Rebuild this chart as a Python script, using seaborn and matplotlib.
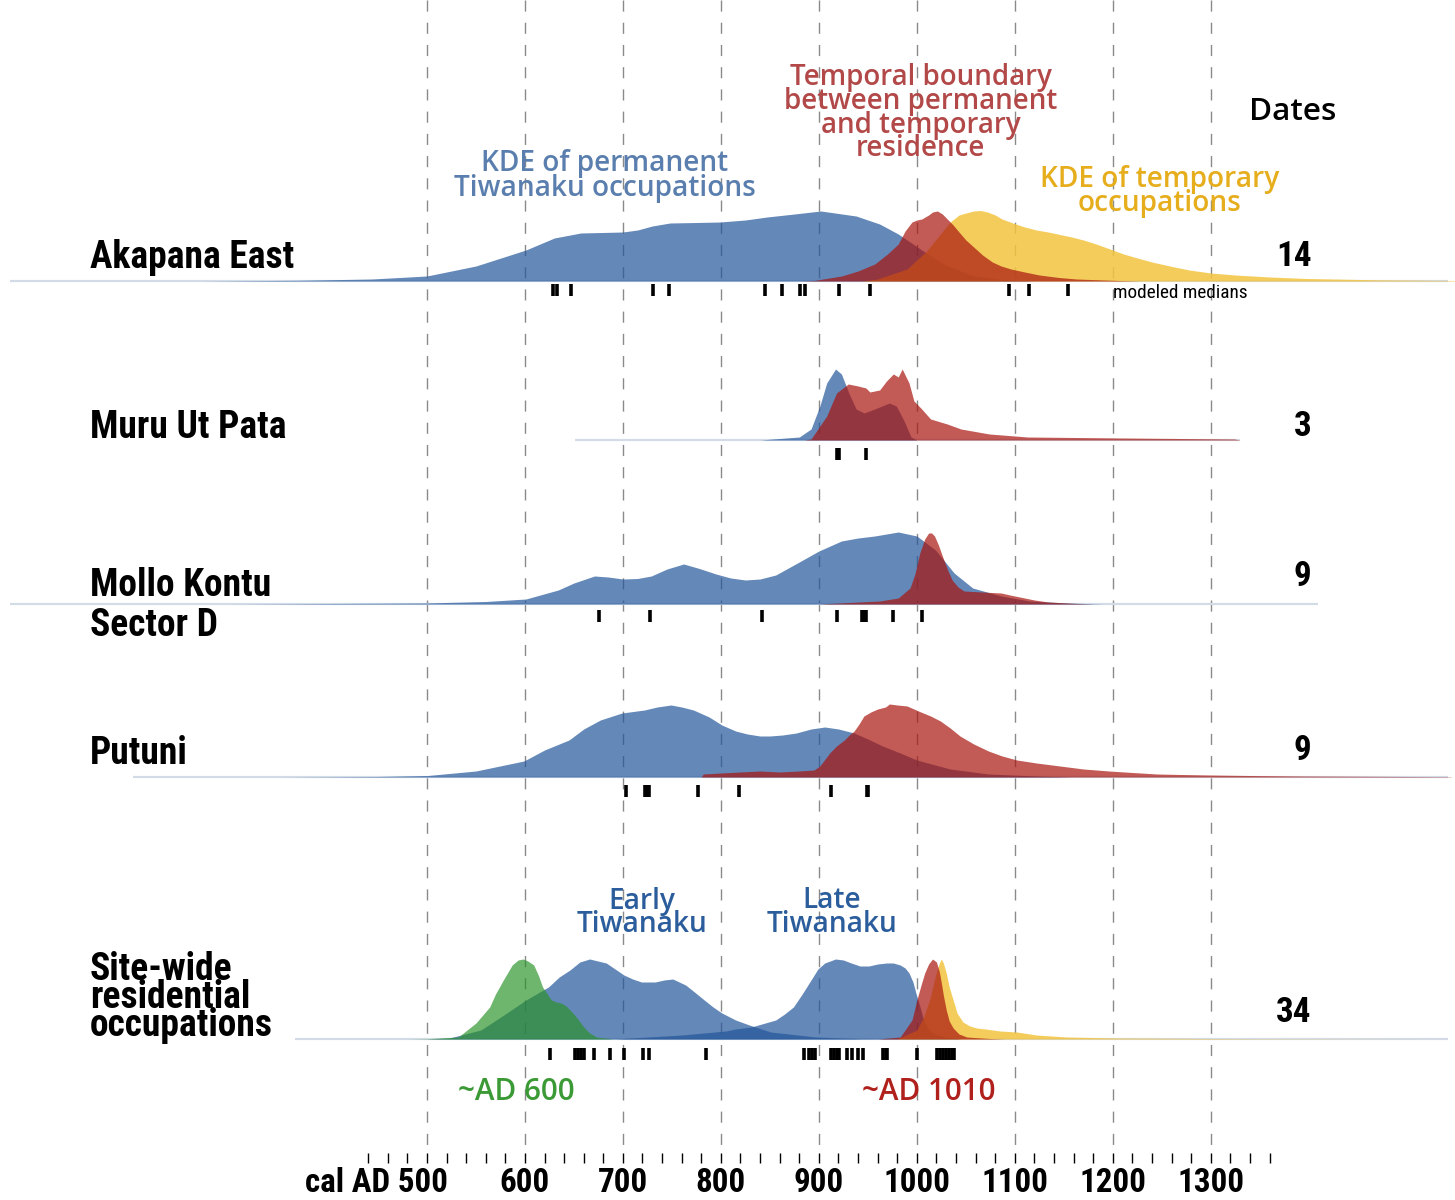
import numpy as np
import pandas as pd
import matplotlib
matplotlib.use("Agg")
import matplotlib.pyplot as plt
from matplotlib import font_manager
from matplotlib.font_manager import FontProperties
import seaborn as sns

# ---- density readings (year, height in px above the row baseline) ----
ak_blue_yr = [270, 368, 444, 500, 550, 601, 630, 657, 700, 715, 730, 748, 775, 799, 825, 847, 875, 902, 938, 962, 981, 1005, 1029, 1058, 1087, 1120]
ak_blue_h = [0, 0.7, 2, 5, 15, 31, 43, 48, 49, 51, 55, 58, 58.5, 59, 61, 64, 67, 70, 65, 57, 47, 31, 16, 5, 1.5, 0]
ak_red_yr = [880, 895, 923, 940, 957, 970, 981, 988, 995, 1000, 1005, 1012, 1016, 1021, 1026, 1031, 1037, 1043, 1050, 1058, 1067, 1077, 1086, 1096, 1110, 1125, 1145, 1163, 1206, 1230]
ak_red_h = [0, 0.5, 5, 10, 17, 27, 37, 50, 59, 61, 62, 66, 69, 70, 67, 62, 56, 49, 41, 34, 26, 19, 15, 12, 9, 6, 3.5, 2, 0.5, 0]
ak_yel_yr = [945, 960, 990, 1010, 1034, 1043, 1050, 1058, 1065, 1072, 1080, 1087, 1098, 1110, 1122, 1134, 1146, 1158, 1170, 1183, 1197, 1211, 1225, 1240, 1258, 1278, 1300, 1325, 1360, 1398, 1469, 1550]
ak_yel_h = [0, 2, 12, 30, 59, 66, 68, 70, 70.5, 69, 66, 62, 58, 54, 51, 49, 46.5, 44, 41, 37, 32, 27, 23, 19, 15, 11, 8, 6, 4, 2.5, 1.2, 0.5]

mu_blue_yr = [840, 880, 892, 901, 908, 917, 923, 931, 938, 946, 957, 972, 979, 987, 994, 1000]
mu_blue_h = [0, 3, 11, 34, 57, 71, 66, 46, 31, 27, 31, 37, 34, 19, 3, 0]
mu_red_yr = [885, 892, 908, 918, 930, 940, 948, 952, 962, 969, 976, 981, 985, 992, 997, 1004, 1014, 1031, 1045, 1074, 1113, 1211, 1324, 1330]
mu_red_h = [0, 1, 24, 47, 56, 54, 52, 48, 50, 59, 66, 63, 71, 57, 39, 32, 21, 16, 11, 6, 3, 2, 1, 0]

mo_blue_yr = [300, 400, 499, 560, 601, 634, 650, 671, 685, 700, 715, 729, 745, 762, 778, 795, 810, 825, 840, 856, 880, 900, 923, 940, 957, 981, 1000, 1019, 1038, 1057, 1086, 1115, 1153, 1190]
mo_blue_h = [0, 0.5, 1, 2.5, 5, 14, 21, 28, 27, 25, 25.5, 28, 35, 40, 35.5, 30, 26, 24, 25, 29, 42, 53, 63, 66, 68, 72, 68, 54, 31, 16, 8, 3, 1, 0]
mo_red_yr = [900, 962, 981, 993, 998, 1003, 1008, 1012, 1015, 1018, 1022, 1026, 1031, 1036, 1042, 1048, 1057, 1067, 1076, 1086, 1095, 1105, 1120, 1134, 1163, 1180]
mo_red_h = [0, 3, 6, 16, 30, 51, 65, 71, 71, 68, 59, 48, 35, 24, 17, 13, 12.5, 12, 11.5, 11, 9, 7, 4, 2, 0.5, 0]

pu_blue_yr = [350, 450, 501, 550, 599, 620, 645, 660, 677, 699, 722, 735, 749, 760, 772, 788, 801, 815, 827, 840, 850, 863, 877, 892, 906, 920, 936, 950, 965, 983, 1000, 1034, 1073, 1122, 1160]
pu_blue_h = [0, 0.5, 1.5, 6, 16, 27, 37, 48, 57, 64, 67, 70, 72, 70, 67, 60, 52, 46, 43, 41, 41, 42, 44, 48, 50, 48, 44, 38, 31, 24, 17, 8, 3, 1, 0]
pu_red_yr = [780, 782, 800, 820, 840, 860, 880, 895, 901, 911, 918, 926, 931, 936, 941, 946, 953, 960, 968, 972, 980, 990, 997, 1004, 1014, 1024, 1034, 1044, 1058, 1073, 1087, 1102, 1122, 1146, 1170, 1196, 1220, 1245, 1270, 1299, 1340, 1393, 1545]
pu_red_h = [0, 3, 4, 5, 6, 5, 6, 7, 11, 24, 31, 37, 42, 46, 53, 61, 65, 68, 70, 73, 72, 71, 68, 65, 61, 56, 49, 41, 33, 26, 21, 17, 14, 11, 8, 6, 4.5, 3, 2.5, 2, 1.5, 1, 0.3]

sw_green_yr = [480, 500, 532, 550, 564, 570, 578, 587, 593, 598, 603, 609, 614, 618, 627, 632, 637, 642, 648, 654, 660, 666, 673, 690]
sw_green_h = [0, 0.3, 2, 16, 32, 45, 59, 74, 79, 80, 78, 74, 63, 52, 39, 37, 36, 33, 27, 20, 12, 6, 2, 0]
sw_early_yr = [500, 523, 555, 580, 601, 624, 635, 646, 656, 666, 683, 701, 710, 719, 733, 742, 751, 764, 773, 783, 792, 801, 815, 829, 851, 897, 942, 980]
sw_early_h = [0, 1, 9, 25, 39, 52, 62, 69, 77, 80, 76, 64, 60, 57, 57, 59, 60, 54, 47, 39, 32, 26, 19, 14, 7, 2, 0.3, 0]
sw_late_yr = [692, 760, 805, 815, 831, 856, 865, 874, 883, 892, 899, 906, 917, 925, 933, 942, 951, 960, 969, 976, 983, 988, 992, 996, 999, 1003, 1006, 1010, 1015, 1022, 1029, 1045]
sw_late_h = [0, 4, 8, 10, 12, 19, 25, 32, 45, 59, 70, 76, 80, 79, 76, 73, 73, 75, 76, 76, 74, 71, 66, 57, 46, 33, 22, 13, 7, 4, 2, 0]
sw_red_yr = [960, 983, 995, 1000, 1004, 1008, 1012, 1016, 1020, 1023, 1025, 1027, 1030, 1033, 1037, 1043, 1051, 1074, 1090]
sw_red_h = [0, 2, 19, 39, 53, 66, 75, 80, 77, 67, 56, 44, 29, 18, 11, 5, 2, 0.5, 0]
sw_yel_yr = [980, 1000, 1007, 1013, 1017, 1020, 1023, 1025, 1027, 1030, 1033, 1037, 1041, 1047, 1054, 1061, 1070, 1085, 1102, 1122, 1153, 1204, 1340, 1545]
sw_yel_h = [0, 9, 22, 39, 55, 67, 76, 80, 76, 66, 52, 39, 26, 17, 13, 11, 10, 8, 7, 4, 2, 1, 0.3, 0]

# modeled medians (cal AD)
ak_dates = [629, 633, 647, 731, 747, 845, 862, 881, 886, 921, 952, 1094, 1114, 1154]
mu_dates = [919, 921, 948]
mo_dates = [676, 728, 842, 919, 944, 946, 948, 976, 1005]
pu_dates = [703, 723, 725, 727, 777, 818, 912, 949, 950]
sw_dates = [626, 651, 654, 657, 660, 670, 687, 701, 721, 727, 785, 885, 890, 893, 896,
            912, 915, 918, 921, 929, 934, 940, 945, 965, 968, 970, 1000, 1021, 1024,
            1027, 1030, 1033, 1036, 1038]

row_names = ["Akapana East", "Muru Ut Pata", "Mollo Kontu\nSector D", "Putuni",
             "Site-wide\nresidential\noccupations"]
row_counts = ["14", "3", "9", "9", "34"]
grid_years = [500, 600, 700, 800, 900, 1000, 1100, 1200, 1300]
tick_labels = ["cal AD 500", "600", "700", "800", "900", "1000", "1100", "1200", "1300"]

# ---- layout (pixel rows) ----
baselines = [281, 440, 604, 777, 1039]
rug_y = [290, 454, 616, 791, 1054]
tail_span = [(74, 1542), (651, 1330), (74, 1409), (200, 1542), (365, 1542)]
label_y = [257, 427, 605.5, 754, 997]
label_w = [210, 203, 191, 102, 190]
label_dy = [0, 0, 39, 0, 28]
count_y = [257, 427, 577, 750, 1012]

BLUE, BLUE_A = "#23569a", 0.7
RED, RED_A = "#a8140e", 0.7
YEL, YEL_A = "#f3c43e", 0.85
GRN, GRN_A = "#2a9228", 0.68

sns.set_theme(style="white")

# pick a condensed face if one is installed
cond_name, cond_stretch = "DejaVu Sans", "normal"
found = {}
for f in font_manager.fontManager.ttflist:
    st = str(f.stretch)
    if st in ("condensed", "semi-condensed", "extra-condensed") or "Narrow" in f.name or "Condensed" in f.name:
        found.setdefault(f.name, st)
for p in ["Liberation Sans Narrow", "Roboto Condensed", "Open Sans Condensed", "Noto Sans",
          "DejaVu Sans Condensed", "DejaVu Sans", "Open Sans", "Roboto"]:
    if p in found:
        cond_name, cond_stretch = p, found[p]
        break
names = {f.name for f in font_manager.fontManager.ttflist}
semi = "Open Sans" if "Open Sans" in names else "DejaVu Sans"
plt.rcParams["font.family"] = [cond_name, "DejaVu Sans"]

fig = plt.figure(figsize=(14.55, 12), dpi=100)
ax = fig.add_axes([0, 0, 1, 1])
ax.set_xlim(64.3, 1549.2)
ax.set_ylim(1200, 0)
ax.set_axis_off()
renderer = fig.canvas.get_renderer()


def fitted(s, width, family, stretch="normal", weight="bold", maxsize=40):
    fp = FontProperties(family=family, stretch=stretch, weight=weight, size=10)
    w10 = max(renderer.get_text_width_height_descent(l, fp, ismath=False)[0]
              for l in s.split("\n"))
    fp.set_size(min(maxsize, 10 * width / w10))
    return fp


def spacing_for(fp, dy):
    # drawn baseline gap comes out as ls * (lp_h - lp_d) + lp_d
    if not dy:
        return 1.2
    _, h, d = renderer.get_text_width_height_descent("lp", fp, ismath=False)
    return (dy - d) / (h - d)


# dashed century lines
for yr in grid_years:
    ax.plot([yr, yr], [0, 1148], color="#8a8a8a", lw=1, dashes=(8, 8), zorder=0)


def ridge(base, yrs, hs, color, alpha, z):
    yrs = np.asarray(yrs, float)
    hs = np.asarray(hs, float)
    ax.fill_between(yrs, base, base - hs, color=color, alpha=alpha, lw=0, zorder=z)


for (x0, x1), base in zip(tail_span, baselines):
    ax.plot([x0, x1], [base, base], color="#d3dbe7", lw=1.6, zorder=1,
            solid_capstyle="butt")

b = baselines
ridge(b[0], ak_blue_yr, ak_blue_h, BLUE, BLUE_A, 2)
ridge(b[0], ak_yel_yr, ak_yel_h, YEL, YEL_A, 3)
ridge(b[0], ak_red_yr, ak_red_h, RED, RED_A, 4)

ridge(b[1], mu_blue_yr, mu_blue_h, BLUE, BLUE_A, 2)
ridge(b[1], mu_red_yr, mu_red_h, RED, RED_A, 4)

ridge(b[2], mo_blue_yr, mo_blue_h, BLUE, BLUE_A, 2)
ridge(b[2], mo_red_yr, mo_red_h, RED, RED_A, 4)

ridge(b[3], pu_blue_yr, pu_blue_h, BLUE, BLUE_A, 2)
ridge(b[3], pu_red_yr, pu_red_h, RED, RED_A, 4)

ridge(b[4], sw_early_yr, sw_early_h, BLUE, BLUE_A, 2)
ridge(b[4], sw_late_yr, sw_late_h, BLUE, BLUE_A, 2)
ridge(b[4], sw_green_yr, sw_green_h, GRN, GRN_A, 3)
ridge(b[4], sw_yel_yr, sw_yel_h, YEL, YEL_A, 3)
ridge(b[4], sw_red_yr, sw_red_h, RED, RED_A, 4)

# modeled medians as rug marks
rug = pd.concat([pd.DataFrame({"year": d, "y": y}) for d, y in
                 zip([ak_dates, mu_dates, mo_dates, pu_dates, sw_dates], rug_y)])
sns.scatterplot(data=rug, x="year", y="y", marker="|", s=64, linewidth=2.6,
                color="black", ax=ax, zorder=5, legend=False)

# row labels and counts
for name, y, w, dy in zip(row_names, label_y, label_w, label_dy):
    fp = fitted(name, w, cond_name, cond_stretch, maxsize=27)
    ax.text(155.8, y, name, fontproperties=fp, linespacing=spacing_for(fp, dy),
            ha="left", va="center", color="black")
fp_cnt = fitted("14", 36, cond_name, cond_stretch, maxsize=27)
for c, y in zip(row_counts, count_y):
    ax.text(1403, y, c, fontproperties=fp_cnt, ha="right", va="center", color="black")
fp = fitted("Dates", 87, semi, weight="semibold", maxsize=24)
ax.text(1383.7, 112, "Dates", fontproperties=fp, ha="center", va="center", color="black")
fp = fitted("modeled medians", 134, cond_name, cond_stretch, weight="normal", maxsize=15)
ax.text(1200, 293, "modeled medians", fontproperties=fp, ha="left", va="center", color="black")


def label(text, width, x, y, color, dy=None):
    fp = fitted(text, width, semi, weight="semibold", maxsize=22)
    ax.text(x, y, text, fontproperties=fp, linespacing=spacing_for(fp, dy), color=color,
            ha="center", va="center", multialignment="center", zorder=6)


label("KDE of permanent\nTiwanaku occupations", 302, 681.6, 176, "#5a7fae", dy=25)
label("Temporal boundary\nbetween permanent\nand temporary\nresidence", 274, 1004, 113,
      "#b24848", dy=24)
label("KDE of temporary\noccupations", 240, 1248, 191.5, "#e6ad1c", dy=23)
label("Early\nTiwanaku", 131, 719, 913, "#2b5d9c", dy=24)
label("Late\nTiwanaku", 131, 913, 913, "#2b5d9c", dy=24)
label("~AD 600", 117, 591, 1092, "#3b9a35")
label("~AD 1010", 134, 1012, 1092, "#b0201c")

# bottom axis
minor = np.arange(440, 1361, 20)
ax.vlines(minor, 1153, 1163, color="black", lw=1)
fp_tick = fitted("1000", 67, cond_name, cond_stretch, maxsize=26)
for yr, t in zip(grid_years, tick_labels):
    if t.startswith("cal"):
        ax.text(yr + 21, 1183, t, fontproperties=fp_tick, ha="right", va="center", color="black")
    else:
        ax.text(yr, 1183, t, fontproperties=fp_tick, ha="center", va="center", color="black")

fig.savefig("out.png", dpi=100)
